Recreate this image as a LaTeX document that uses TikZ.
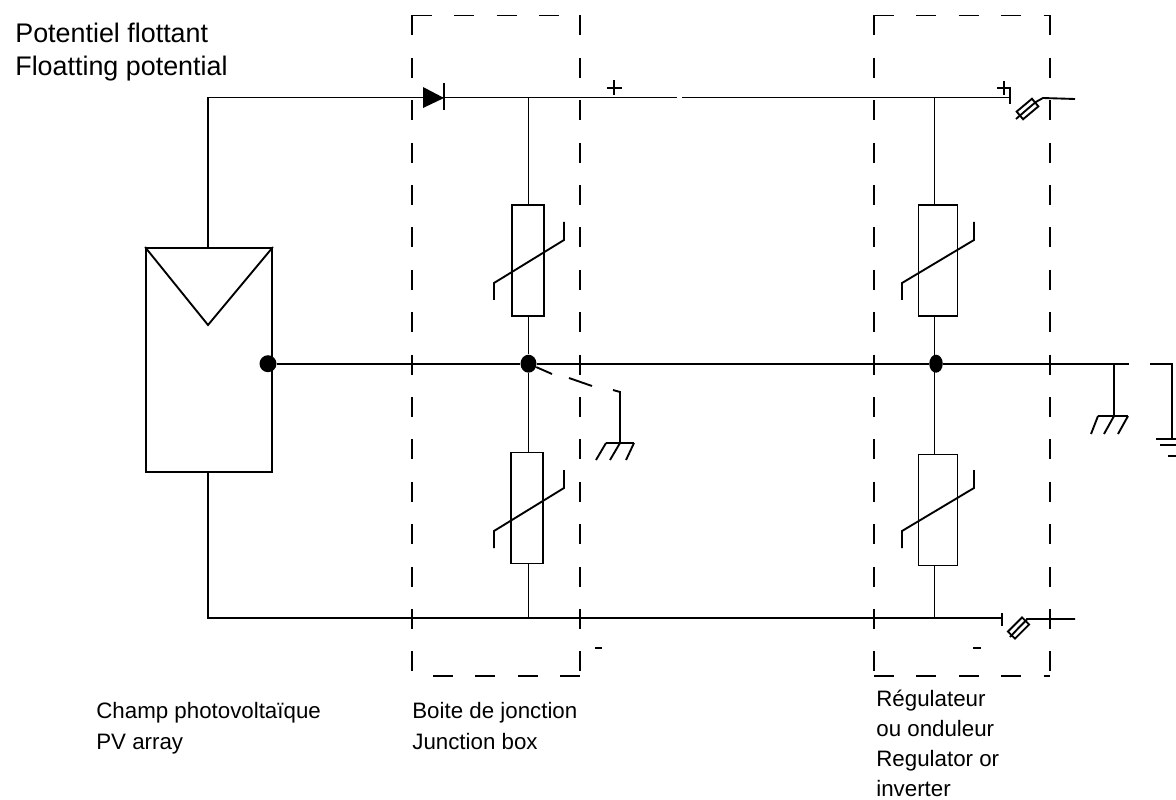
\documentclass[tikz,border=0pt]{standalone}
\usepackage{fontspec}
\setmainfont{Liberation Sans}
\usetikzlibrary{shapes.geometric}
\tikzset{
  wire/.style={draw=black, line width=1.07pt},
  sign/.style={draw=black, line width=1.5pt},
  dashbox/.style={draw=black, line width=1.07pt, dash pattern=on 0.4cm off 0.448cm},
  varistor/.style={shape=rectangle, draw=black, line width=1.07pt, inner sep=0pt, minimum width=0.65cm, minimum height=2.22cm},
  junction/.style={shape=ellipse, fill=black, inner sep=0pt, minimum width=0.32cm, minimum height=0.36cm},
  fuse/.style={shape=rectangle, draw=black, line width=1.07pt, inner sep=0pt, minimum width=0.4cm, minimum height=0.2cm},
  biglabel/.style={font=\fontsize{15.3pt}{18.75pt}\selectfont, align=left, anchor=north west, inner sep=0pt},
  smalllabel/.style={font=\fontsize{12.7pt}{17.6pt}\selectfont, align=left, anchor=north west, inner sep=0pt}
}
\begin{document}
\begin{tikzpicture}[x=0.02cm, y=-0.02cm]
\useasboundingbox (0,0) rectangle (1176,800);
% boxes
\draw[dashbox] (412,15.5) -- (580,15.5);
\draw[dashbox] (412,15.5) -- (412,672);
\draw[dashbox] (580,15.5) -- (580,672);
\draw[dashbox] (580,676) -- (413,676);
\draw[dashbox] (874,15.5) -- (1050,15.5);
\draw[dashbox] (874,15.5) -- (874,672);
\draw[dashbox] (1050,15.5) -- (1050,672);
\draw[dashbox] (874,676) -- (1050,676);
% array
\node[shape=rectangle, draw=black, line width=1.07pt, inner sep=0pt, minimum width=2.52cm, minimum height=4.48cm] (PV) at (209,360) {};
\draw[wire] (PV.north west) -- (208,325) -- (PV.north east);
\coordinate (TL) at (208,97.5);
\coordinate (BL) at (208,617.7);
\coordinate (TR) at (677,97.5);
\coordinate (TS) at (682,97.5);
\coordinate (TE) at (1010,97.5);
\coordinate (BE) at (1002,617.7);
% top and bottom lines
\draw[wire] (PV.north -| TL) -- (TL) -- (TR);
\draw[wire] (TS) -- (TE);
\draw[wire] (PV.south -| BL) -- (BL) -- (BE);
\draw[wire] (1010,87) -- (1010,104);
\draw[wire] (1002,613) -- (1002,626);
% diode
\fill (423,87) -- (444,98) -- (423,108) -- cycle;
\draw[wire] (444,83) -- (444,110);
% junctions
\node[junction, shape=circle, minimum size=0.34cm] (J0) at (268,363.7) {};
\node[junction] (J1) at (528.5,363.7) {};
\node[junction, minimum width=0.27cm] (J2) at (936,363.7) {};
\coordinate (ME) at (1129,363.7);
\coordinate (RB) at (934.5,363.7);
\path[wire] (J0) edge (J1);
\path[wire] (J1) edge (J2);
\path[wire] (J2) edge (ME);
% varistors
\node[varistor] (V1) at (528,260.5) {};
\node[varistor] (V2) at (527,508) {};
\node[varistor, minimum width=0.78cm] (V3) at (938,260.5) {};
\node[varistor, minimum width=0.78cm] (V4) at (938,510) {};
\path[wire] (J1 |- TL) edge (J1 |- V1.north);
\path[wire] (J1 |- V1.south) edge (J1);
\path[wire] (J1) edge (J1 |- V2.north);
\path[wire] (J1 |- V2.south) edge (J1 |- BL);
\path[wire] (RB |- TL) edge (RB |- V3.north);
\path[wire] (RB |- V3.south) edge (RB);
\path[wire] (RB) edge (RB |- V4.north);
\path[wire] (RB |- V4.south) edge (RB |- BL);
\draw[wire] (494,300) -- (494,283) -- (564,240) -- (564,222);
\draw[wire] (494,548) -- (494,531) -- (564,488) -- (564,470);
\draw[wire] (902,300) -- (902,283) -- (974,240) -- (974,222);
\draw[wire] (902,548) -- (902,531) -- (974,488) -- (974,470);
% switches with fuses
\node[fuse, rotate=40] (F1) at (1027.5,109) {};
\node[fuse, rotate=45] (F2) at (1018.5,628) {};
\coordinate (T1) at (1016,119);
\coordinate (T2) at (1010,637);
\draw[wire] (T1) -- (F1.center) -- (F1.east) -- (1043,98) -- (1075,99);
\draw[wire] (T2) -- (F2.center) -- (F2.east) -- (1027,619) -- (1075,619);
% dashed earth link
\draw[wire] (J1) -- (552,374);
\draw[wire] (569,378) -- (592,386);
\draw[wire] (613,390) -- (620,392) -- (620,443);
\draw[wire] (606,443) -- (634,443);
\draw[wire] (606,443) -- (596,460);
\draw[wire] (620,443) -- (610,460);
\draw[wire] (634,443) -- (626,460);
% earth on the right
\draw[wire] (1114,363.7) -- (1114,416);
\draw[wire] (1098,416) -- (1128,416);
\draw[wire] (1098,416) -- (1091,434);
\draw[wire] (1114,416) -- (1104,434);
\draw[wire] (1128,416) -- (1118,434);
\draw[wire] (1150,363.7) -- (1172,363.7) -- (1172,439);
\draw[wire] (1156,439) -- (1176,439);
\draw[wire] (1160,445) -- (1176,445);
\draw[wire] (1168,456) -- (1176,456);
% signs
\draw[sign] (607,88) -- (622,88);
\draw[sign] (614,80) -- (614,95);
\draw[sign] (997,88) -- (1010,88);
\draw[sign] (1004,81) -- (1004,95);
\draw[sign] (595,648) -- (602,648);
\draw[sign] (973,648) -- (981,648);
% labels
\node[biglabel] (FL) at (15,23) {Potentiel flottant\\Floatting potential};
\node[smalllabel] (PA) at (96,702) {Champ photovoltaïque\\PV array};
\node[smalllabel] (JB) at (412,702) {Boite de jonction\\Junction box};
\node[smalllabel, font=\fontsize{12.7pt}{17.1pt}\selectfont] (RO) at (876,690) {Régulateur\\ou onduleur\\Regulator or\\inverter};
\end{tikzpicture}
\end{document}
